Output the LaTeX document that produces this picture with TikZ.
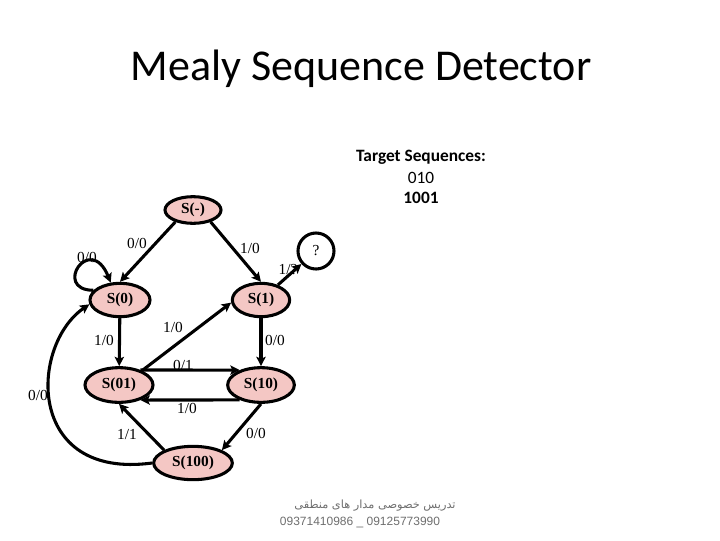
\documentclass[tikz,border=0pt]{standalone}
\usepackage{fontspec}
\setmainfont{Liberation Serif}
\newfontfamily\calibri{Carlito}
\newfontfamily\arialf{Liberation Sans}
\newfontfamily\arabicfont[Script=Arabic]{DejaVu Sans}
\TeXXeTstate=1
\usetikzlibrary{shapes.geometric,arrows.meta}
\definecolor{statefill}{RGB}{244,199,196}
\definecolor{wmgray}{RGB}{110,110,110}
\begin{document}
\begin{tikzpicture}[x=0.75pt,y=-0.75pt,
  state/.style={ellipse,draw=black,line width=2.3pt,fill=statefill,inner sep=0pt,
    font=\bfseries\fontsize{11.5}{13}\selectfont},
  qstate/.style={circle,draw=black,line width=2.3pt,fill=white,inner sep=0pt,minimum size=27pt,
    font=\fontsize{11.5}{13}\selectfont},
  tr/.style={line width=2.3pt,-{Stealth[length=7pt,width=7pt,inset=1.5pt]}},
  lbl/.style={inner sep=0pt,font=\fontsize{11.5}{13}\selectfont}]
\useasboundingbox (0,0) rectangle (720,540);
% title
\node[font=\calibri\fontsize{33}{38}\selectfont, anchor=base] (title) at (361,80) {Mealy Sequence Detector};
\node[font=\calibri\bfseries\fontsize{13}{15}\selectfont] (tgt) at (421,157) {Target Sequences:};
\node[font=\calibri\fontsize{13}{15}\selectfont] (seq1) at (421,178) {010};
\node[font=\calibri\bfseries\fontsize{13}{15}\selectfont] (seq2) at (421,198) {1001};
% states
\node[state,minimum width=42pt,minimum height=20pt] (sm) at (193,210) {S(-)};
\node[state,minimum width=45pt,minimum height=25pt] (s0) at (120,300) {S(0)};
\node[state,minimum width=43pt,minimum height=25pt] (s1) at (261,300) {S(1)};
\node[qstate] (q) at (316,251) {?};
\node[state,minimum width=51pt,minimum height=26pt] (s01) at (119,385) {S(01)};
\node[state,minimum width=50pt,minimum height=26pt] (s10) at (261,385) {S(10)};
\node[state,minimum width=59pt,minimum height=25pt] (s100) at (193,463) {S(100)};
% transitions
\draw[tr] (sm.-146) -- (s0.north);
\draw[tr] (sm.-34) -- (s1.north);
\draw[tr] (s1) -- (q);
\draw[tr] (s0.160) .. controls (52,290) and (90,232) .. (s0.118);
\draw[tr] (s0) -- (s01);
\draw[tr] (s1) -- (s10);
\draw[tr] (s01.32) -- (s1.185);
\draw[tr] (s01.35) -- (s10.145);
\draw[tr] (s10.215) -- (s01.325);
\draw[tr] (s10.south) -- (s100.north east);
\draw[tr] (s100.north west) -- (s01.south);
\draw[tr] (s100.west) .. controls (25,480) and (30,345) .. (s0.188);
% labels
\node[lbl] (l1) at (137,243) {0/0};
\node[lbl] (l2) at (250,248) {1/0};
\node[lbl] (l3) at (87,257) {0/0};
\node[lbl] (l4) at (288,270) {1/?};
\node[lbl] (l5) at (173,327) {1/0};
\node[lbl] (l6) at (104,340) {1/0};
\node[lbl] (l7) at (275,340) {0/0};
\node[lbl] (l8) at (183,365) {0/1};
\node[lbl] (l9) at (187,408) {1/0};
\node[lbl] (l10) at (256,433) {0/0};
\node[lbl] (l11) at (127,435) {1/1};
\node[lbl] (l12) at (38,395) {0/0};
% watermark
\node[font=\arabicfont\fontsize{8.5}{10}\selectfont, text=wmgray] (wm1) at (375,506) {\beginR تدریس خصوصی مدار های منطقی\endR};
\node[font=\arialf\fontsize{9}{10}\selectfont, text=wmgray] (wm2) at (360,522) {09371410986 \_ 09125773990};
\end{tikzpicture}
\end{document}
